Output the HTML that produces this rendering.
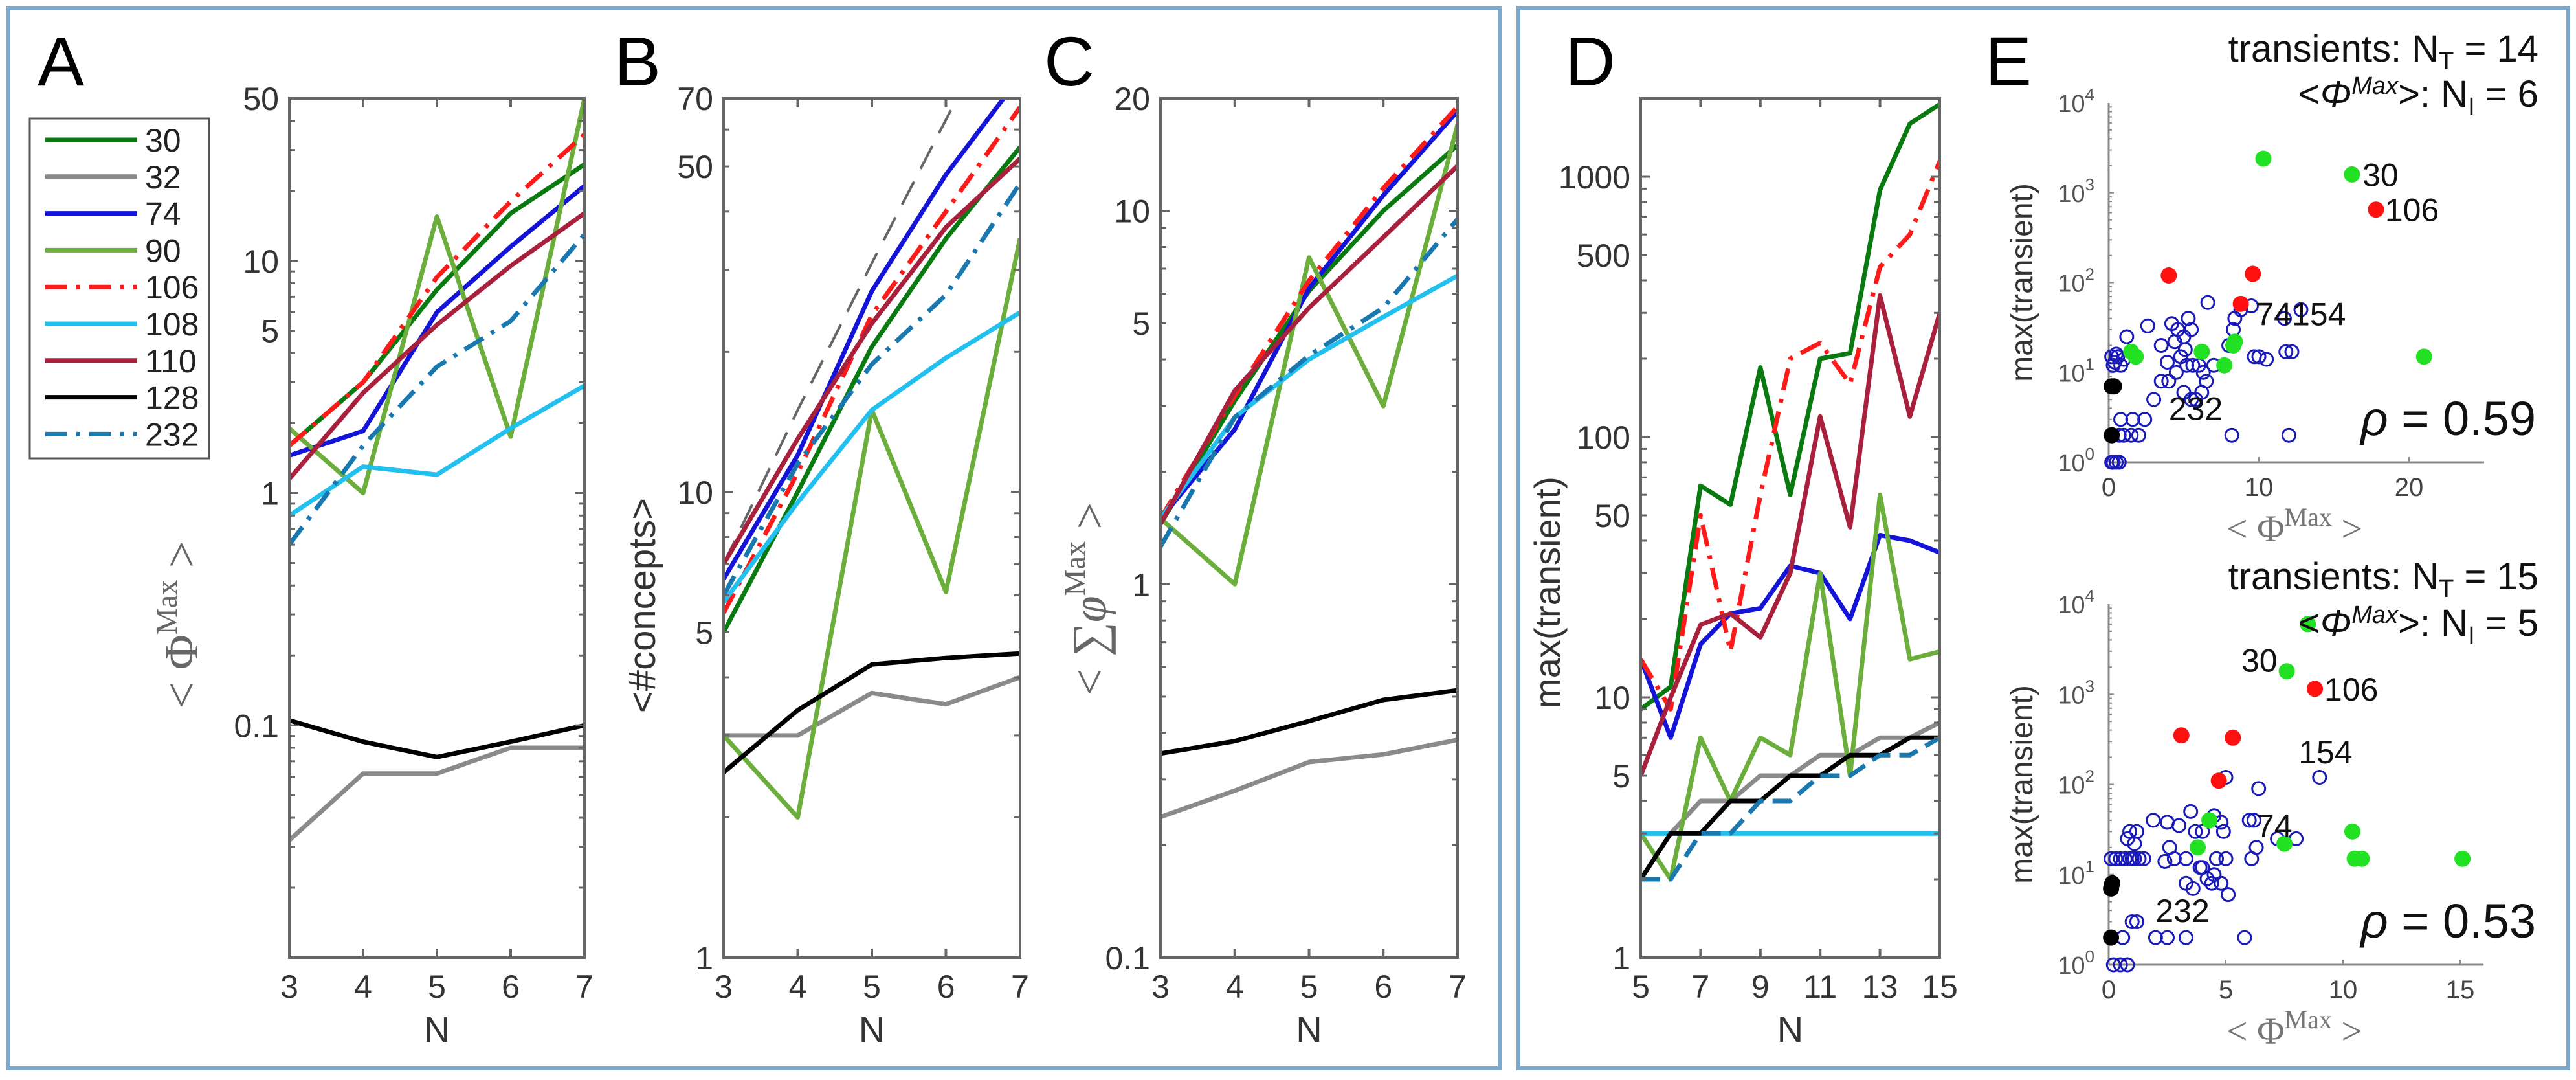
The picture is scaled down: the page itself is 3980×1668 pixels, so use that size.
<!DOCTYPE html>
<html><head><meta charset="utf-8">
<style>
html,body{margin:0;padding:0;background:#fff;}
svg{display:block;}
text{font-family:"Liberation Sans",sans-serif;}
.tick{font-size:50px;fill:#333;}
.serif{font-family:"Liberation Serif",serif;}
</style></head>
<body>
<svg id="fig" width="3980" height="1668" viewBox="0 0 3980 1668" xmlns="http://www.w3.org/2000/svg">
<rect x="0" y="0" width="3980" height="1668" fill="#fff"/>
<rect x="12" y="12" width="2305" height="1638" fill="none" stroke="#7fa7c7" stroke-width="6"/>
<rect x="2346" y="12" width="1622" height="1638" fill="none" stroke="#7fa7c7" stroke-width="6"/>
<g id="root"></g>
</svg>
<script>
// ---------- data ----------
const seriesIds = ['30','32','74','90','106','108','110','128','232'];
const seriesColors = {'30':'#087a10','32':'#8a8a8a','74':'#1414d8','90':'#6cae3c','106':'#ff1a1a','108':'#22c0ee','110':'#a8203c','128':'#000000','232':'#1a78b0'};
const Nsmall = [3,4,5,6,7];
const A_30=[1.6,3.0,7.5,16,26], A_32=[0.032,0.062,0.062,0.08,0.08], A_74=[1.45,1.85,6,11.5,21], A_90=[1.9,1.0,15.5,1.75,50],
A_106=[1.6,3.0,8.5,18,35], A_108=[0.8,1.3,1.2,1.9,2.9], A_110=[1.15,2.7,5.3,9.5,16], A_128=[0.105,0.085,0.073,0.085,0.1], A_232=[0.6,1.6,3.5,5.5,13];
const B_30=[5,10,20.5,35,55], B_32=[3.0,3.0,3.7,3.5,4.0], B_74=[6.5,12,27,48,78], B_90=[3.0,2.0,15,6.1,35],
B_106=[5.5,11,24,40,67], B_108=[5.8,9.5,15,19.4,24.3], B_110=[7,13,23,37,52], B_128=[2.5,3.4,4.26,4.4,4.5], B_232=[6,11.5,18.8,26.5,46];
const B_ref=[7,15,31,63,127];
const C_30=[1.45,3.1,6.1,10,15], C_32=[0.238,0.28,0.334,0.35,0.383], C_74=[1.5,2.6,6.2,11,18.5], C_90=[1.5,1.0,7.5,3.0,17],
C_106=[1.5,3.2,6.5,11.5,19], C_108=[1.5,2.8,4.0,5.2,6.7], C_110=[1.45,3.3,5.5,8.5,13.2], C_128=[0.352,0.38,0.43,0.49,0.52], C_232=[1.26,2.8,4.1,5.5,9.5];
const Nbig = [5,6,7,8,9,10,11,12,13,14,15];
const D_30=[9,11,65,55,185,60,200,210,890,1600,1900], D_32=[3,3,4,4,5,5,6,6,7,7,8], D_74=[14,7,16,21,22,32,30,20,42,40,36],
D_90=[3,2,7,4,7,6,30,5,60,14,15], D_106=[14,9,50,15,60,200,230,160,450,600,1150], D_108=[3,3,3,3,3,3,3,3,3,3,3],
D_110=[5,10,19,21,17,30,120,45,350,120,300], D_128=[2,3,3,4,4,5,5,6,6,7,7], D_232=[2,2,3,3,4,4,5,5,6,6,7];
// scatter E top
const E1_blueX=[0.2,0.4,0.6,0.8,1,0.3,0.5,0.3,0.5,0.7,0.2,0.7,1,1.5,2,0.8,1.6,2.4,1.2,2.6,3.5,3.9,4.2,4.6,5,5.3,5.5,6.6,4.8,5.2,5.6,6,6.3,4.5,4,3.5,3,5,5.5,5.8,6.5,7,8.4,8.3,8,8.8,9.5,9.7,10,10.5,11.7,11.8,12.2,12.8,8.2,12,6.2,5.1,4.4];
const E1_blueY=[15,13,15,12,14,12,16,1,1,1,1,2,2,2,2,3,3,3,25,33,20,13,35,30,25,40,30,60,15,12,12,12,10,10,8,8,5,6,5,5,8,12,40,30,20,50,55,15,15,14,40,17,17,50,2,2,6,18,22];
const E1_greenX=[10.3,16.2,21,1.5,1.8,6.2,7.7,8.3,8.4];
const E1_greenY=[2400,1600,15,17,15,17,12,20,22];
const E1_redX=[4,9.6,8.8,17.8];
const E1_redY=[120,125,58,650];
const E1_blackX=[0.2,0.35,0.2];
const E1_blackY=[7,7,2];
// scatter E bottom
const E2_blueX=[0.1,0.3,0.5,0.7,0.9,1.1,1.3,1.5,1.0,0.2,0.5,0.8,0.6,1,1.2,2,2.5,3.3,5.8,0.8,1.1,0.9,1.2,1.9,2.5,3,3.5,3.7,4,4.5,5,4.8,3.3,2.8,2.4,3.9,4.6,5,4.2,4.4,4.8,5.1,3.3,3.6,4.5,4,6,6.2,6.4,6.1,6.3,7.2,8,9,4.9,3.8,2.6];
const E2_blueY=[15,15,15,15,15,15,15,15,15,1,1,1,2,3,3,2,2,2,2,25,22,30,30,40,38,35,50,30,30,45,120,38,15,15,14,12,15,15,9,8,8,6,8,7,10,12,40,40,90,15,20,25,25,120,30,20,20];
const E2_greenX=[8.5,7.6,4.3,3.8,7.5,10.4,10.5,10.8,15.1];
const E2_greenY=[6000,1800,40,20,22,30,15,15,15];
const E2_redX=[3.1,5.3,4.7,8.8];
const E2_redY=[350,330,110,1150];
const E2_blackX=[0.1,0.15,0.1];
const E2_blackY=[7,8,2];
const legendLabels=['30','32','74','90','106','108','110','128','232'];

// ---------- helpers ----------
const NS='http://www.w3.org/2000/svg';
const root=document.getElementById('root');
function mk(tag,attrs,parent){const e=document.createElementNS(NS,tag);for(const k in attrs)e.setAttribute(k,attrs[k]);(parent||root).appendChild(e);return e;}
function txt(x,y,s,attrs,parent){const t=mk('text',Object.assign({x:x,y:y},attrs||{}),parent);t.textContent=s;return t;}
const dashes={'106':'34 14 6 14','232':'34 14 6 14'};

function logPanel(name,L,R,T,B,xmin,xmax,ymin,ymax,xticks,yticks,data,xs,opts){
  const g=mk('g',{});
  
  
  const lmin=Math.log10(ymin),lmax=Math.log10(ymax);
  const sx=v=>L+(v-xmin)/(xmax-xmin)*(R-L);
  const sy=v=>B-(Math.log10(v)-lmin)/(lmax-lmin)*(B-T);
  const cp='clip-'+name;
  const cpe=mk('clipPath',{id:cp},g);mk('rect',{x:L,y:T,width:R-L,height:B-T},cpe);
  const lg=mk('g',{'clip-path':'url(#'+cp+')'},g);
  if(opts&&opts.ref){
    const pts=xs.map((x,i)=>sx(x)+','+sy(opts.ref[i])).join(' ');
    const p=mk('polyline',{points:pts,fill:'none',stroke:'#666','stroke-width':4,'stroke-dasharray':'40 22'},lg);
    
    
  }
  seriesIds.forEach(id=>{
    const vals=data[id];
    const pts=xs.map((x,i)=>sx(x).toFixed(1)+','+sy(vals[i]).toFixed(1)).join(' ');
    const at={points:pts,fill:'none',stroke:seriesColors[id],'stroke-width':7,'stroke-linejoin':'round'};
    if(dashes[id]) at['stroke-dasharray']=(opts&&opts.plainDash&&id==='232')?'30 14':dashes[id];
    const p=mk('polyline',at,lg);
    
    
  });
  mk('rect',{x:L,y:T,width:R-L,height:B-T,fill:'none',stroke:'#666','stroke-width':4},g);
  xticks.forEach(v=>{
    const x=sx(v);
    mk('line',{x1:x,y1:B,x2:x,y2:B-14,stroke:'#666','stroke-width':4},g);
    mk('line',{x1:x,y1:T,x2:x,y2:T+14,stroke:'#666','stroke-width':4},g);
    const t=txt(x,B+62,String(v),{'text-anchor':'middle',class:'tick'},g);
    
    
  });
  for(let d=Math.floor(lmin);d<=Math.ceil(lmax);d++){
    for(let m=1;m<10;m++){
      const v=m*Math.pow(10,d); if(v<ymin*0.999||v>ymax*1.001) continue;
      const y=sy(v), len=(m===1)?14:9;
      mk('line',{x1:L,y1:y,x2:L+len,y2:y,stroke:'#666','stroke-width':3},g);
      mk('line',{x1:R,y1:y,x2:R-len,y2:y,stroke:'#666','stroke-width':3},g);
    }
  }
  yticks.forEach(v=>{
    const t=txt(L-16,sy(v)+18,String(v),{'text-anchor':'end',class:'tick'},g);
    
    
  });
  const nl=txt((L+R)/2,B+130,'N',{'text-anchor':'middle',style:'font-size:56px;fill:#333'},g);
  
  
  return g;
}
function pack(prefix){const o={};seriesIds.forEach(id=>{o[id]=eval(prefix+id);});return o;}

// ---------- panels ----------
logPanel('panel-a',447,903,152,1479,3,7,0.01,50,Nsmall,[50,10,5,1,0.1],pack('A_'),Nsmall);
logPanel('panel-b',1118,1576,152,1479,3,7,1,70,Nsmall,[70,50,10,5,1],pack('B_'),Nsmall,{ref:B_ref});
logPanel('panel-c',1793,2252,152,1479,3,7,0.1,20,Nsmall,[20,10,5,1,0.1],pack('C_'),Nsmall);
logPanel('panel-d',2535,2997,152,1479,5,15,1,2000,[5,7,9,11,13,15],[1000,500,100,50,10,5,1],pack('D_'),Nbig,{plainDash:true});

let t;
t=txt(0,0,'',{transform:'translate(305,965) rotate(-90)','text-anchor':'middle',class:'serif',style:'font-size:74px;fill:#666'});
t.innerHTML='&lt; Φ<tspan dy="-32" style="font-size:46px">Max</tspan><tspan dy="32"> &gt;</tspan>';

t=txt(0,0,'<#concepts>',{transform:'translate(1012,935) rotate(-90)','text-anchor':'middle',style:'font-size:58px;fill:#333'});

t=txt(0,0,'',{transform:'translate(1708,925) rotate(-90)','text-anchor':'middle',class:'serif',style:'font-size:74px;fill:#666'});
t.innerHTML='&lt; ∑<tspan font-style="italic">φ</tspan><tspan dy="-32" style="font-size:46px">Max</tspan><tspan dy="32"> &gt;</tspan>';

t=txt(0,0,'max(transient)',{transform:'translate(2410,915) rotate(-90)','text-anchor':'middle',style:'font-size:56px;fill:#333'});


[['A',58],['B',949],['C',1613],['D',2418],['E',3067]].forEach(([s,x])=>{
  const e=txt(x,132,s,{style:'font-size:108px;fill:#000'});
  
  
});

const lgd=mk('g',{});


mk('rect',{x:46,y:183,width:277,height:525,fill:'#fff',stroke:'#555','stroke-width':3},lgd);
legendLabels.forEach((id,i)=>{
  const y=216+i*56.8;
  const at={x1:70,y1:y,x2:212,y2:y,stroke:seriesColors[id],'stroke-width':7};
  if(dashes[id]) at['stroke-dasharray']=dashes[id];
  const ln=mk('line',at,lgd);
  
  
  const tt=txt(224,y+18,id,{style:'font-size:50px;fill:#222'},lgd);
  
  
});

function scatter(name,L,xmax,x1tick,xticks,B,T,sets,labels,info,rho,infoY){
  const g=mk('g',{});
  
  
  const R=L+xmax*x1tick;
  const sx=v=>L+v*x1tick;
  const sy=v=>B-Math.log10(v)/4*(B-T);
  mk('line',{x1:L,y1:T,x2:L,y2:B,stroke:'#888','stroke-width':3},g);
  mk('line',{x1:L,y1:B,x2:R,y2:B,stroke:'#888','stroke-width':3},g);
  for(let d=0;d<4;d++)for(let m=1;m<10;m++){const y=sy(m*Math.pow(10,d));mk('line',{x1:L,y1:y,x2:L+(m===1?8:5),y2:y,stroke:'#888','stroke-width':2},g);}
  for(let e=0;e<=4;e++){
    const tl=txt(L-22,sy(Math.pow(10,e))+14,'',{'text-anchor':'end',style:'font-size:38px;fill:#555'},g);
    tl.innerHTML='10<tspan dy="-18" style="font-size:26px">'+e+'</tspan>';
    
    
  }
  xticks.forEach(v=>{
    mk('line',{x1:sx(v),y1:B,x2:sx(v),y2:B-8,stroke:'#888','stroke-width':2},g);
    const tl=txt(sx(v),B+52,String(v),{'text-anchor':'middle',style:'font-size:40px;fill:#444'},g);
    
    
  });
  sets.forEach(s=>{
    s.xs.forEach((x,i)=>{
      const c=mk('circle',{cx:sx(x),cy:sy(s.ys[i]),r:s.open?10:12.5,fill:s.open?'none':s.color,stroke:s.color,'stroke-width':s.open?3:0},g);
      
      
    });
  });
  labels.forEach(l=>{
    const tl=txt(sx(l[1]),sy(l[2])+18,l[0],{'text-anchor':l[3]||'start',style:'font-size:50px;fill:#111'},g);
    
    
  });
  const yl=txt(0,0,'max(transient)',{transform:'translate(3140,'+((T+B)/2)+') rotate(-90)','text-anchor':'middle',style:'font-size:48px;fill:#333'},g);
  
  
  const xl=txt(3545,B+122,'',{'text-anchor':'middle',class:'serif',style:'font-size:58px;fill:#777'},g);
  xl.innerHTML='&lt;  Φ<tspan dy="-24" style="font-size:40px">Max</tspan><tspan dy="24">  &gt;</tspan>';
  
  
  const i1=txt(3922,infoY[0],'',{'text-anchor':'end',style:'font-size:58px;fill:#111'},g);
  i1.innerHTML='transients: N<tspan dy="12" style="font-size:38px">T</tspan><tspan dy="-12"> = '+info[0]+'</tspan>';
  
  
  const i2=txt(3922,infoY[1],'',{'text-anchor':'end',style:'font-size:58px;fill:#111'},g);
  i2.innerHTML='&lt;<tspan font-style="italic">Φ</tspan><tspan dy="-20" style="font-size:38px;font-style:italic">Max</tspan><tspan dy="20">&gt;: N</tspan><tspan dy="12" style="font-size:38px">I</tspan><tspan dy="-12"> = '+info[1]+'</tspan>';
  
  
  const rt=txt(3918,B-42,'',{'text-anchor':'end',style:'font-size:74px;fill:#111'},g);
  rt.innerHTML='<tspan font-style="italic">ρ</tspan> = '+rho;
  
  
}
scatter('panel-e-top',3258,25,23.2,[0,10,20],714,159,[
  {name:'blue-point',xs:E1_blueX,ys:E1_blueY,color:'#1a1ab8',open:true},
  {name:'green-point',xs:E1_greenX,ys:E1_greenY,color:'#22e022'},
  {name:'red-point',xs:E1_redX,ys:E1_redY,color:'#ff1010'},
  {name:'black-point',xs:E1_blackX,ys:E1_blackY,color:'#000'}],
  [['30',16.9,1600],['106',18.4,650],['74154',9.8,45],['232',4,4]],[14,6],'0.59',[95,165]);
scatter('panel-e-bottom',3258,16,36.2,[0,5,10,15],1490,933,[
  {name:'blue-point',xs:E2_blueX,ys:E2_blueY,color:'#1a1ab8',open:true},
  {name:'green-point',xs:E2_greenX,ys:E2_greenY,color:'#22e022'},
  {name:'red-point',xs:E2_redX,ys:E2_redY,color:'#ff1010'},
  {name:'black-point',xs:E2_blackX,ys:E2_blackY,color:'#000'}],
  [['30',7.2,2400,'end'],['106',9.2,1150],['154',8.1,230],['74',6.3,35],['232',2.0,4]],[15,5],'0.53',[910,982]);
</script>
</body></html>
